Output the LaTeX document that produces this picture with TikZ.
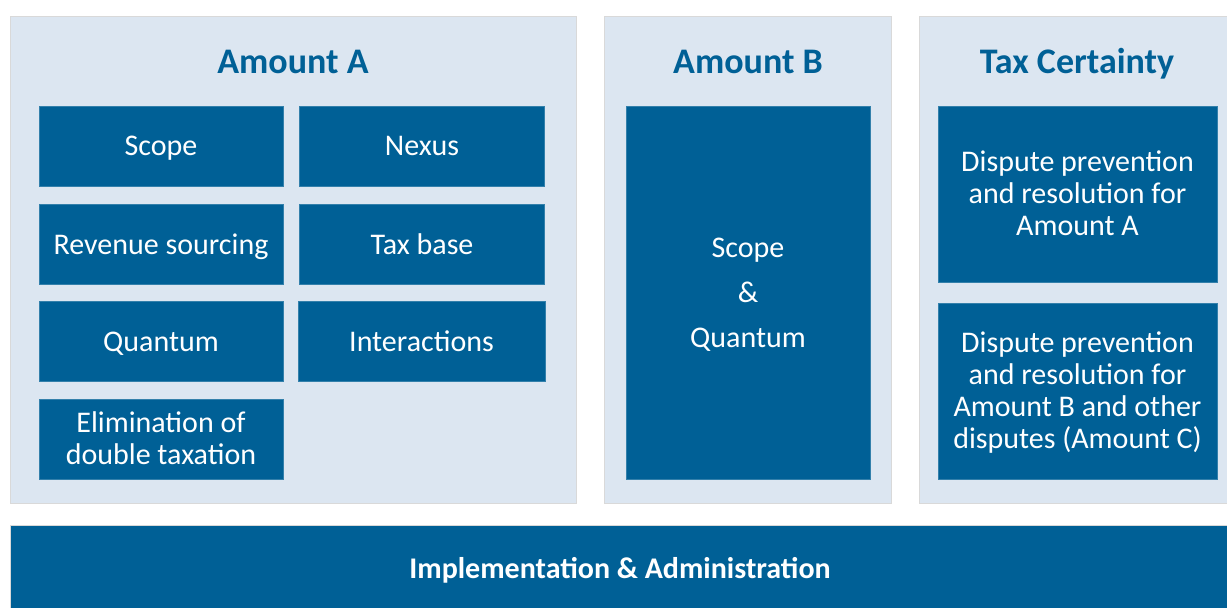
\documentclass[tikz,border=0pt]{standalone}
\usepackage{fontspec}
\setmainfont{Carlito}
\usepackage{tikz}
\usetikzlibrary{positioning}
\definecolor{pillarBlue}{RGB}{0, 96, 150}
\definecolor{pillarBack}{RGB}{220, 230, 241}
\newcommand{\blockstrut}{\rule[-4.8pt]{0pt}{19.2pt}}

\begin{document}
\begin{tikzpicture}[x=0.5pt, y=-0.5pt,
    panel/.style={fill=pillarBack, draw=black!15, line width=0.4pt, inner sep=0pt},
    block/.style={fill=pillarBlue, draw=pillarBlue!80!white, line width=0.3pt, text=white,
        align=center, inner sep=0pt, font=\fontsize{15}{16}\selectfont,
        execute at begin node=\blockstrut},
    heading/.style={text=pillarBlue, font=\fontsize{18}{21}\selectfont\bfseries,
        text height=16.4pt, text depth=4pt}]
        \useasboundingbox (0,0) rectangle (1227,608);

        % the three pillars
        \node[panel, minimum width=283pt, minimum height=243.5pt] (panA) at (293,259.5) {};
        \node[panel, minimum width=143.5pt, minimum height=243.5pt] (panB) at (747.5,259.5) {};
        \node[panel, minimum width=154pt, minimum height=243.5pt] (panC) at (1073,259.5) {};

        \node[heading] (titA) at (293,61) {Amount A};
        \node[heading] (titB) at (748,61) {Amount B};
        \node[heading] (titC) at (1077,61) {Tax Certainty};

        % Amount A
        \node[block, minimum width=122pt, minimum height=40pt] (scopeA) at (161,146) {Scope};
        \node[block, minimum width=122.5pt, minimum height=40pt] (nexus) at (422,146) {Nexus};
        \node[block, minimum width=122pt, minimum height=40pt] (revenue) at (161,244.5) {Revenue sourcing};
        \node[block, minimum width=122.5pt, minimum height=40pt] (taxbase) at (422,244.5) {Tax base};
        \node[block, minimum width=122pt, minimum height=40pt] (quantumA) at (161,341.5) {Quantum};
        \node[block, minimum width=123.5pt, minimum height=40pt] (interact) at (421.5,341.5) {Interactions};
        \node[block, minimum width=122pt, minimum height=40pt] (elim) at (161,439)
            {\blockstrut Elimination of\\double taxation};

        % Amount B
        \node[block, minimum width=122pt, minimum height=186.5pt] (scopeB) at (748,292.5)
            {\blockstrut Scope\\[6.5pt]\&\\[6.5pt]Quantum};

        % Tax Certainty
        \node[block, minimum width=139.5pt, minimum height=88pt] (disA) at (1077.5,194)
            {\blockstrut Dispute prevention\\and resolution for\\Amount A};
        \node[block, minimum width=139.5pt, minimum height=88pt] (disB) at (1077.5,391)
            {\blockstrut Dispute prevention\\and resolution for\\Amount B and other\\disputes (Amount C)};

        % base
        \node[block, draw=black!15, minimum width=610pt, minimum height=44pt,
            font=\fontsize{15}{18}\selectfont\bfseries] (impl) at (620,569)
            {Implementation \& Administration};
    \end{tikzpicture}
\end{document}
